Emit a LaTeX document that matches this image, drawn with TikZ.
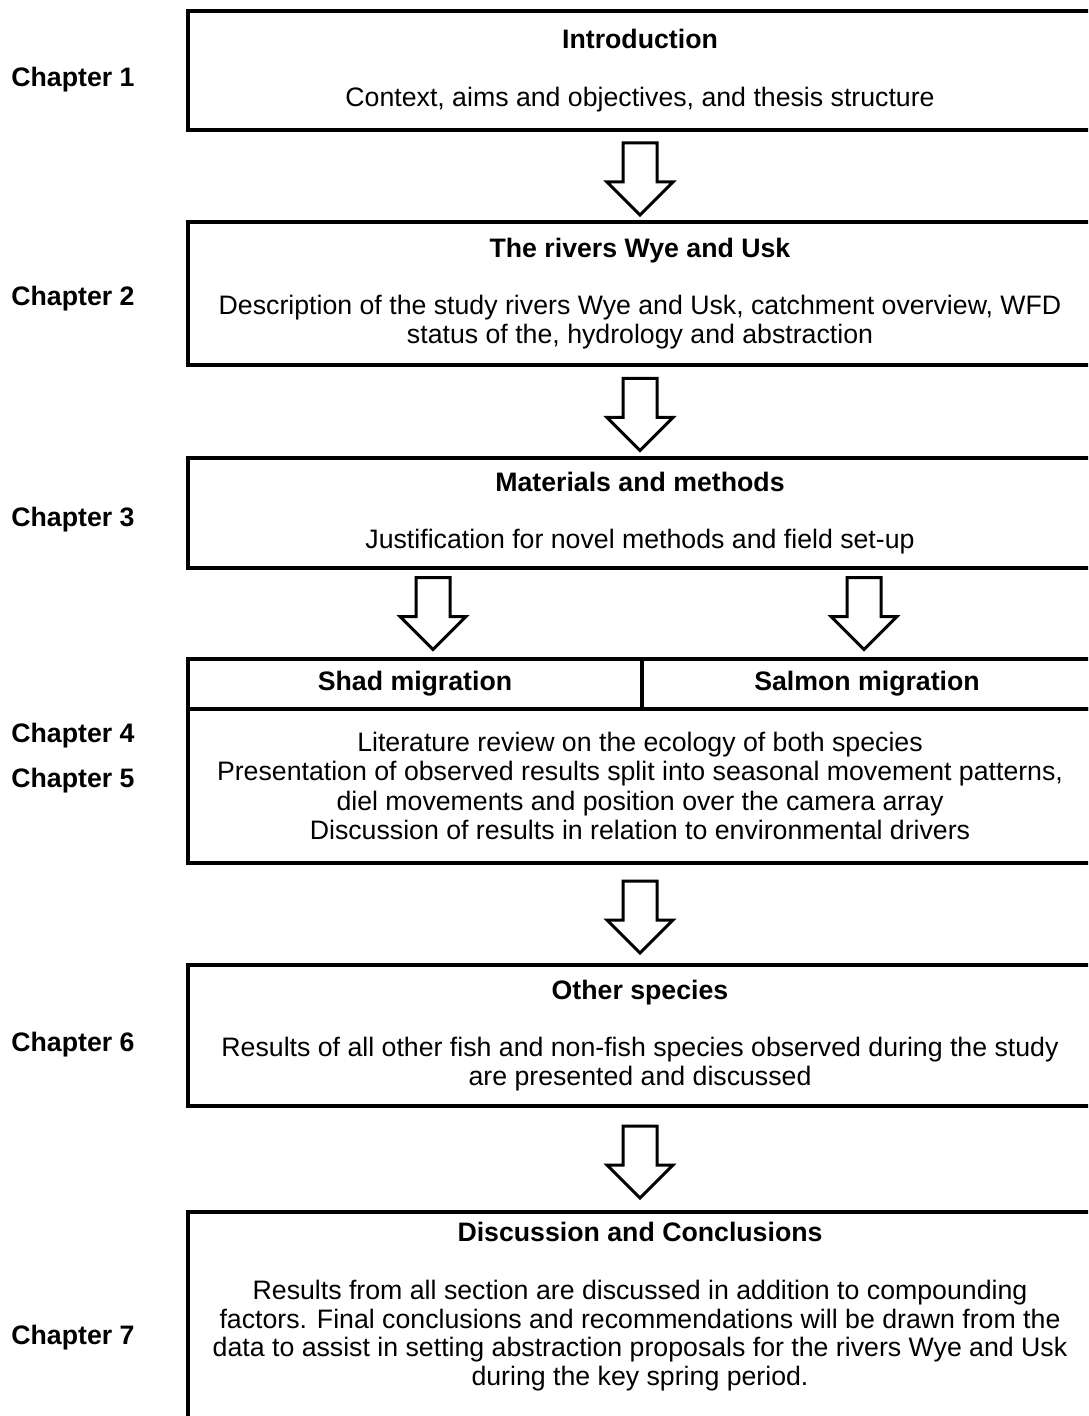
\documentclass[tikz,border=0pt]{standalone}
\usepackage{fontspec}
\setmainfont{Liberation Sans}
\usetikzlibrary{positioning,calc}

% hollow block arrow, centred on a named coordinate (units: px of the layout)
\newcommand{\blockarrow}[1]{%
  \draw[barrow] ($(#1)+(-17,-33)$) -- ++(0,39) -- ++(-16,0) -- ++(33,33)
    -- ++(33,-33) -- ++(-16,0) -- ++(0,-39) -- cycle;}

\begin{document}
\begin{tikzpicture}[
  x=0.5pt, y=-0.5pt,
  font=\fontsize{13.35}{14.4}\selectfont,
  box/.style={rectangle,draw=black,line width=2pt,outer sep=0pt,inner sep=0pt,
              minimum width=452pt,align=center},
  headbox/.style={box,font=\fontsize{13.35}{14.4}\selectfont\bfseries,minimum height=25pt},
  chap/.style={anchor=base west,inner sep=0pt,font=\fontsize{13.35}{14.4}\selectfont\bfseries},
  barrow/.style={draw=black,line width=1.5pt,fill=white,line join=miter},
]
\clip (0,0) rectangle (1088,1416);

% ---------- chapter boxes ----------
\node[box,anchor=north west,minimum height=59.5pt] (intro) at (188,11)
  {\textbf{Introduction}\\[14.4pt]
   Context, aims and objectives, and thesis structure};
\node[box,below=46pt of intro,minimum height=71.5pt] (rivers)
  {\textbf{The rivers Wye and Usk}\\[14.4pt]
   Description of the study rivers Wye and Usk, catchment overview, WFD\\
   status of the, hydrology and abstraction};
\node[box,below=46.5pt of rivers,minimum height=55pt] (methods)
  {\textbf{Materials and methods}\\[14.4pt]
   Justification for novel methods and field set-up};

\node[headbox,minimum width=227pt,anchor=north west] (shad)
  at ($(methods.south west)+(0,91)$) {Shad migration};
\node[headbox,minimum width=225pt,right=0pt of shad] (salmon) {Salmon migration};
\node[box,anchor=north west,minimum height=77pt,
      font=\fontsize{13.35}{14.7}\selectfont] (migr) at (shad.south west)
  {Literature review on the ecology of both species\\
   Presentation of observed results split into seasonal movement patterns,\\
   diel movements and position over the camera array\\
   Discussion of results in relation to environmental drivers};

\node[box,below=51pt of migr,minimum height=70.5pt] (other)
  {\textbf{Other species}\\[14.4pt]
   Results of all other fish and non-fish species observed during the study\\
   are presented and discussed};
\node[box,below=53pt of other,minimum height=125pt] (concl) {};
\node[anchor=north,align=center,inner sep=0pt] (concltext)
  at ([yshift=-5pt]concl.north)
  {\textbf{Discussion and Conclusions}\\[14.4pt]
   Results from all section are discussed in addition to compounding\\
   factors. Final conclusions and recommendations will be drawn from the\\
   data to assist in setting abstraction proposals for the rivers Wye and Usk\\
   during the key spring period.};

% ---------- chapter labels ----------
\node[chap] (ch1) at (11,87) {Chapter 1};
\node[chap] (ch2) at (11,306) {Chapter 2};
\node[chap] (ch3) at (11,526) {Chapter 3};
\node[chap] (ch4) at (11,742) {Chapter 4};
\node[chap] (ch5) at (11,787) {Chapter 5};
\node[chap] (ch6) at (11,1051) {Chapter 6};
\node[chap] (ch7) at (11,1344) {Chapter 7};

% ---------- block arrows ----------
\coordinate (g1) at ($(intro.south)!0.5!(rivers.north)$);
\coordinate (g2) at ($(rivers.south)!0.5!(methods.north)$);
\coordinate (g3) at ($(methods.south)!0.5!(shad.north -| methods.south)$);
\coordinate (g3l) at ($(g3)+(-207,-3)$);
\coordinate (g3r) at ($(g3)+(224,-3)$);
\coordinate (g4) at ($(migr.south)!0.5!(other.north)$);
\coordinate (g5) at ($(other.south)!0.5!(concl.north)$);
\foreach \g in {g1,g2,g3l,g3r,g4,g5} {\blockarrow{\g}}
\end{tikzpicture}
\end{document}
